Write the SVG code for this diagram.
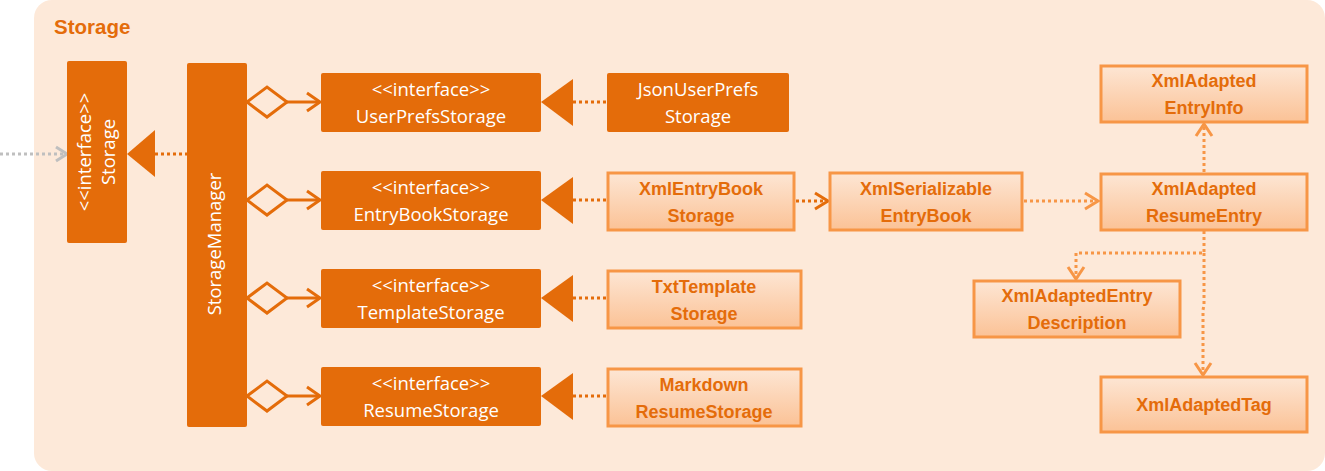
<svg xmlns="http://www.w3.org/2000/svg" width="1325" height="471" viewBox="0 0 1325 471">
<defs>
<linearGradient id="lg" x1="0" y1="0" x2="0" y2="1">
<stop offset="0" stop-color="#FDE6D4"/>
<stop offset="1" stop-color="#FBC296"/>
</linearGradient>
<style>
.dark{fill:#E46C0A;}
.light{fill:url(#lg);stroke:#F79646;stroke-width:3;}
.wt{font-family:"Open Sans","Liberation Sans",Arial,sans-serif;font-size:18.5px;fill:#FFFFFF;text-anchor:middle;}
.bt{font-family:"Liberation Sans",Arial,sans-serif;font-size:18px;font-weight:bold;fill:#E46C0A;text-anchor:middle;}
.dd{fill:none;stroke:#E46C0A;stroke-width:3;stroke-dasharray:3 3;}
.dl{fill:none;stroke:#F79646;stroke-width:3;stroke-dasharray:3 3;}
.ah{fill:none;stroke:#F79646;stroke-width:3;}
.ahd{fill:none;stroke:#E46C0A;stroke-width:3;}
.dia{fill:#FDE9D9;stroke:#E46C0A;stroke-width:3;}
.tri{fill:#E46C0A;}
</style>
</defs>
<rect x="34" y="0" width="1291" height="471" rx="18" ry="18" fill="#FDE9D9"/>
<text x="54" y="34" font-family="Liberation Sans,Arial,sans-serif" font-size="20.5" font-weight="bold" fill="#E46C0A">Storage</text>

<g id="connectors">
<line x1="0" y1="154" x2="64" y2="154" stroke="#BFBFBF" stroke-width="3" stroke-dasharray="3 3"/>
<polyline points="56,147 67,154 56,161" fill="none" stroke="#BFBFBF" stroke-width="3"/>
<line x1="155" y1="154" x2="187" y2="154" class="dd"/>
<polygon points="127,154 155,130 155,177" class="tri"/>

<g>
<polygon points="247,102 267,87 287,102 267,117" class="dia"/>
<line x1="287" y1="102" x2="319" y2="102" class="ahd"/>
<polyline points="307,93 320,102 307,111" class="ahd"/>
</g>
<g>
<polygon points="247,200 267,185 287,200 267,215" class="dia"/>
<line x1="287" y1="200" x2="319" y2="200" class="ahd"/>
<polyline points="307,191 320,200 307,209" class="ahd"/>
</g>
<g>
<polygon points="247,298 267,283 287,298 267,313" class="dia"/>
<line x1="287" y1="298" x2="319" y2="298" class="ahd"/>
<polyline points="307,289 320,298 307,307" class="ahd"/>
</g>
<g>
<polygon points="247,396 267,381 287,396 267,411" class="dia"/>
<line x1="287" y1="396" x2="319" y2="396" class="ahd"/>
<polyline points="307,387 320,396 307,405" class="ahd"/>
</g>

<polygon points="541,102 573,79 573,126" class="tri"/>
<line x1="573" y1="102" x2="607" y2="102" class="dd"/>
<polygon points="541,200 573,177 573,224" class="tri"/>
<line x1="573" y1="200" x2="607" y2="200" class="dd"/>
<polygon points="541,298 573,275 573,322" class="tri"/>
<line x1="573" y1="298" x2="607" y2="298" class="dd"/>
<polygon points="541,396 573,373 573,420" class="tri"/>
<line x1="573" y1="396" x2="607" y2="396" class="dd"/>

<line x1="796" y1="201" x2="826" y2="201" class="dd" stroke="#E8761E"/>
<polyline points="815,193 828,201 815,209" class="ahd"/>

<line x1="1024" y1="201" x2="1097" y2="201" class="dl"/>
<polyline points="1085,193 1098,201 1085,209" class="ah"/>

<line x1="1204" y1="172" x2="1204" y2="126" class="dl"/>
<polyline points="1196,136 1204,124 1212,136" class="ah"/>

<polyline points="1204,231 1204,253 1076,253 1076,277" class="dl"/>
<polyline points="1068,267 1076,279 1084,267" class="ah"/>
<polyline points="1204,253 1204,305 1203,310 1203,373" class="dl"/>
<polyline points="1195,363 1203,375 1211,363" class="ah"/>
</g>

<g id="Storage">
<rect x="67" y="61" width="60" height="182" rx="2" class="dark"/>
<text class="wt" transform="translate(91,152) rotate(-90)">&lt;&lt;interface&gt;&gt;</text>
<text class="wt" transform="translate(115,152) rotate(-90)">Storage</text>
</g>

<g id="StorageManager">
<rect x="187" y="63" width="60" height="364" rx="2" class="dark"/>
<text class="wt" transform="translate(221,244) rotate(-90)">StorageManager</text>
</g>

<g id="UserPrefsStorage">
<rect x="321" y="73" width="220" height="59" rx="2" class="dark"/>
<text class="wt" x="431" y="96">&lt;&lt;interface&gt;&gt;</text>
<text class="wt" x="431" y="123">UserPrefsStorage</text>
</g>
<g id="EntryBookStorage">
<rect x="321" y="171" width="220" height="59" rx="2" class="dark"/>
<text class="wt" x="431" y="194">&lt;&lt;interface&gt;&gt;</text>
<text class="wt" x="431" y="221">EntryBookStorage</text>
</g>
<g id="TemplateStorage">
<rect x="321" y="269" width="220" height="59" rx="2" class="dark"/>
<text class="wt" x="431" y="292">&lt;&lt;interface&gt;&gt;</text>
<text class="wt" x="431" y="319">TemplateStorage</text>
</g>
<g id="ResumeStorage">
<rect x="321" y="367" width="220" height="59" rx="2" class="dark"/>
<text class="wt" x="431" y="390">&lt;&lt;interface&gt;&gt;</text>
<text class="wt" x="431" y="417">ResumeStorage</text>
</g>

<g id="JsonUserPrefsStorage">
<rect x="607" y="73" width="182" height="59" rx="2" class="dark"/>
<text class="wt" x="698" y="96">JsonUserPrefs</text>
<text class="wt" x="698" y="123">Storage</text>
</g>
<g id="XmlEntryBookStorage">
<rect x="608" y="173" width="186" height="57" class="light"/>
<text class="bt" x="701" y="195">XmlEntryBook</text>
<text class="bt" x="701" y="222">Storage</text>
</g>
<g id="TxtTemplateStorage">
<rect x="608" y="271" width="193" height="57" class="light"/>
<text class="bt" x="704" y="293">TxtTemplate</text>
<text class="bt" x="704" y="320">Storage</text>
</g>
<g id="MarkdownResumeStorage">
<rect x="608" y="369" width="193" height="57" class="light"/>
<text class="bt" x="704" y="391">Markdown</text>
<text class="bt" x="704" y="418">ResumeStorage</text>
</g>
<g id="XmlSerializableEntryBook">
<rect x="830" y="173" width="192" height="57" class="light"/>
<text class="bt" x="926" y="195">XmlSerializable</text>
<text class="bt" x="926" y="222">EntryBook</text>
</g>
<g id="XmlAdaptedEntryInfo">
<rect x="1101" y="66" width="206" height="56" class="light"/>
<text class="bt" x="1204" y="87">XmlAdapted</text>
<text class="bt" x="1204" y="114">EntryInfo</text>
</g>
<g id="XmlAdaptedResumeEntry">
<rect x="1101" y="174" width="206" height="56" class="light"/>
<text class="bt" x="1204" y="195">XmlAdapted</text>
<text class="bt" x="1204" y="222">ResumeEntry</text>
</g>
<g id="XmlAdaptedEntryDescription">
<rect x="974" y="281" width="206" height="56" class="light"/>
<text class="bt" x="1077" y="302">XmlAdaptedEntry</text>
<text class="bt" x="1077" y="329">Description</text>
</g>
<g id="XmlAdaptedTag">
<rect x="1101" y="377" width="206" height="55" class="light"/>
<text class="bt" x="1204" y="411">XmlAdaptedTag</text>
</g>
</svg>
